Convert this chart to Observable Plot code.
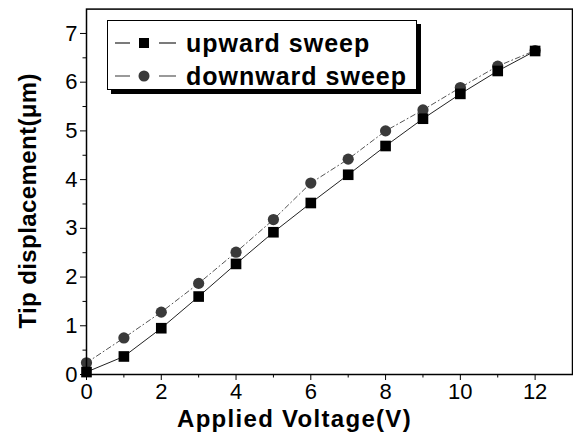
<!DOCTYPE html>
<html>
<head>
<meta charset="utf-8">
<script src="https://cdn.jsdelivr.net/npm/d3@7"></script>
<script src="https://cdn.jsdelivr.net/npm/@observablehq/plot@0.6"></script>
<style>
  html, body { margin: 0; padding: 0; background: #fff; }
  #wrap { position: relative; width: 573px; height: 435px; font-family: "Liberation Sans", Arial, sans-serif; }
  #legend { position: absolute; left: 107px; top: 20px; width: 308px; height: 68px; border: 1.5px solid #000; background: #fff; box-shadow: 4px 4px 0 #000; }
  #legend .row { position: absolute; left: 0; height: 30px; display: flex; align-items: center; }
  #legend .lbl { font-weight: bold; font-size: 25px; letter-spacing: 1px; color: #000; position: absolute; left: 78px; white-space: nowrap; }
  #legend svg { position: absolute; left: 0; top: 0; }
</style>
</head>
<body>
<div id="wrap"></div>
<script>
const voltage  = [0, 1, 2, 3, 4, 5, 6, 7, 8, 9, 10, 11, 12];
const upward   = [0.05, 0.37, 0.95, 1.60, 2.27, 2.92, 3.52, 4.10, 4.69, 5.25, 5.76, 6.23, 6.64];
const downward = [0.24, 0.75, 1.28, 1.87, 2.51, 3.18, 3.93, 4.42, 5.00, 5.43, 5.89, 6.33, 6.65];
const seriesNames = ["upward sweep", "downward sweep"];
const xTicks = [0, 2, 4, 6, 8, 10, 12];
const xMinor = [1, 3, 5, 7, 9, 11];
const yTicks = [0, 1, 2, 3, 4, 5, 6, 7];
const yMinor = [0.5, 1.5, 2.5, 3.5, 4.5, 5.5, 6.5];
const xTitle = "Applied Voltage(V)";
const yTitle = "Tip displacement(μm)";

const up = voltage.map((v, i) => ({x: v, y: upward[i]}));
const down = voltage.map((v, i) => ({x: v, y: downward[i]}));

const font = "Liberation Sans, Arial, sans-serif";

const chart = Plot.plot({
  width: 573,
  height: 435,
  marginLeft: 86,
  marginRight: 1,
  marginTop: 8.6,
  marginBottom: 61,
  style: {fontFamily: font, background: "white", color: "black"},
  x: {domain: [0, 13]},
  y: {domain: [0, 7.5]},
  marks: [
    Plot.line(down, {x: "x", y: "y", stroke: "#555", strokeWidth: 1, strokeDasharray: "5,3,1,3"}),
    Plot.line(up, {x: "x", y: "y", stroke: "#222", strokeWidth: 1}),
    Plot.dot(down, {x: "x", y: "y", r: 5.6, fill: "#3a3a3a", stroke: "none", symbol: "circle"}),
    Plot.dot(up, {x: "x", y: "y", r: 6, fill: "#000", stroke: "none", symbol: "square"}),
    Plot.axisX({ticks: xTicks, tickSize: 6, tickPadding: 3, fontSize: 22, stroke: "black", strokeWidth: 1, label: null}),
    Plot.axisX({ticks: xMinor, tickSize: 3.5, tickFormat: () => "", stroke: "black", strokeWidth: 1, label: null}),
    Plot.axisY({ticks: yTicks, tickSize: 6, tickPadding: 3, fontSize: 22, stroke: "black", strokeWidth: 1, label: null}),
    Plot.axisY({ticks: yMinor, tickSize: 3.5, tickFormat: () => "", stroke: "black", strokeWidth: 1, label: null}),
    Plot.frame({stroke: "black", strokeWidth: 1.5}),
    Plot.text([xTitle], {frameAnchor: "bottom", text: d => d, dx: -35, dy: 45, fontSize: 24, fontWeight: "bold", fill: "black", textAnchor: "middle", lineAnchor: "middle"}),
    Plot.text([yTitle], {frameAnchor: "left", text: d => d, dx: -58, dy: 9, rotate: -90, fontSize: 24, fontWeight: "bold", fill: "black", textAnchor: "middle", lineAnchor: "middle"})
  ]
});

const wrap = document.getElementById("wrap");
wrap.appendChild(chart);
d3.select(chart).selectAll("text").each(function() {
  const t = d3.select(this).text();
  if (t === xTitle) d3.select(this).style("letter-spacing", "1.3px");
  if (t === yTitle) d3.select(this).style("letter-spacing", "0.4px");
});

// legend
const legend = document.createElement("div");
legend.id = "legend";
const rows = [
  {name: seriesNames[0], sym: "square", color: "#000", lc: "#222", top: 7},
  {name: seriesNames[1], sym: "circle", color: "#3a3a3a", lc: "#555", top: 40}
];
rows.forEach(r => {
  const row = document.createElement("div");
  row.className = "row";
  row.style.top = r.top + "px";
  row.style.width = "300px";
  const s = d3.create("svg").attr("width", 75).attr("height", 30);
  s.append("line").attr("x1", 7).attr("x2", 22).attr("y1", 15).attr("y2", 15).attr("stroke", r.lc).attr("stroke-width", 1.2);
  s.append("line").attr("x1", 51).attr("x2", 68).attr("y1", 15).attr("y2", 15).attr("stroke", r.lc).attr("stroke-width", 1.2);
  if (r.sym === "square") s.append("rect").attr("x", 31).attr("y", 10).attr("width", 10).attr("height", 10).attr("fill", r.color);
  else s.append("circle").attr("cx", 36).attr("cy", 15).attr("r", 5.5).attr("fill", r.color);
  row.appendChild(s.node());
  const lbl = document.createElement("span");
  lbl.className = "lbl";
  lbl.textContent = r.name;
  row.appendChild(lbl);
  legend.appendChild(row);
});
wrap.appendChild(legend);
</script>
</body>
</html>
